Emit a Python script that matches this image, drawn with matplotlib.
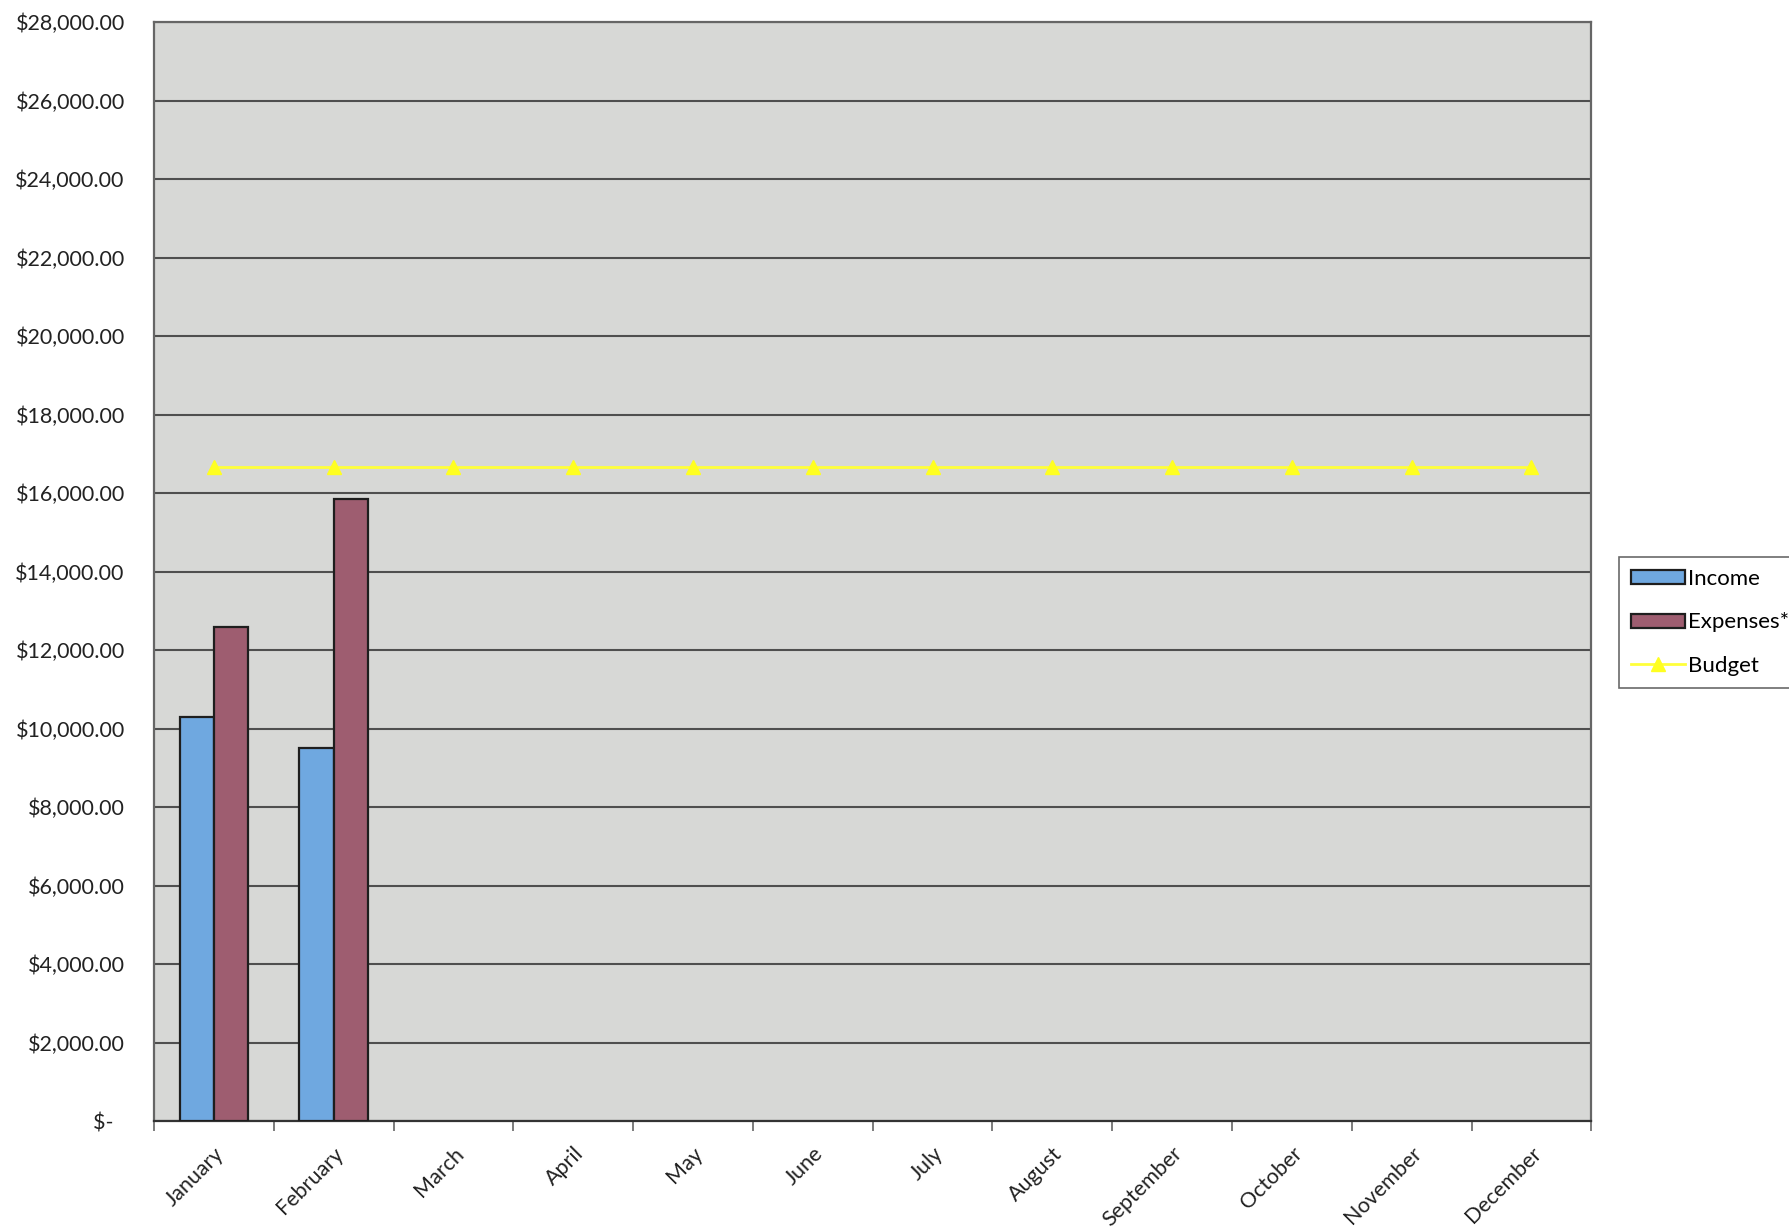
import matplotlib
matplotlib.use("Agg")
import matplotlib.pyplot as plt
from matplotlib.ticker import FuncFormatter
import numpy as np

plt.rcParams['font.family'] = ['Lato', 'DejaVu Sans']

# chart data
months = ["January", "February", "March", "April", "May", "June",
          "July", "August", "September", "October", "November", "December"]
income = [10300, 9500]
expenses = [12580, 15860]
budget = [16666.67] * 12

# colours
INCOME_C = "#6fa8e0"
EXPENSE_C = "#9e5d70"
BUDGET_C = "#ffff3a"
PLOT_BG = "#d7d8d6"
GRID_C = "#4f4f4f"


def money(v, pos):
    if v == 0:
        return "$-  "
    return "${:,.2f}".format(v)


fig = plt.figure(figsize=(17.9, 12.32), dpi=100)
ax = fig.add_axes([0.086, 0.090, 0.803, 0.892])
ax.set_facecolor(PLOT_BG)

x = np.arange(len(months))
w = 1 / 3.5
n = len(income)
b1 = ax.bar(x[:n] - w / 2, income, width=w, color=INCOME_C, edgecolor="#1e1e1e",
            linewidth=1.6, label="Income", zorder=3)
b2 = ax.bar(x[:n] + w / 2, expenses, width=w, color=EXPENSE_C, edgecolor="#1e1e1e",
            linewidth=1.6, label="Expenses*", zorder=3)
l1, = ax.plot(x, budget, color=BUDGET_C, linewidth=2.0, marker="^", markersize=10,
              markerfacecolor="#ffff20", markeredgecolor="#ffff20", label="Budget",
              zorder=4)

ax.set_xlim(-0.5, len(months) - 0.5)
ax.set_ylim(0, 28000)
ax.set_yticks(np.arange(0, 28001, 2000))
ax.yaxis.set_major_formatter(FuncFormatter(money))
ax.yaxis.grid(True, color=GRID_C, linewidth=1.5, zorder=1)
ax.set_axisbelow(True)
ax.tick_params(axis="y", length=0, pad=21, labelsize=15.5, labelcolor="#222222")

# labels at category centres, tick marks at category boundaries
ax.set_xticks(x)
ax.set_xticklabels(months, rotation=45, ha="right", va="top",
                   rotation_mode="anchor", fontsize=15.5, color="#222222")
ax.tick_params(axis="x", which="major", length=0, pad=16)
ax.set_xticks(np.arange(-0.5, len(months), 1), minor=True)
ax.tick_params(axis="x", which="minor", length=7, width=1.2, color="#666666",
               direction="out")

for side in ["left", "right", "top", "bottom"]:
    ax.spines[side].set_color("#666666")
    ax.spines[side].set_linewidth(1.6)
ax.spines["bottom"].set_color("#333333")

leg = fig.legend([b1, b2, l1], ["Income", "Expenses*", "Budget"],
                 loc="upper left", bbox_to_anchor=(0.9045, 0.548),
                 borderaxespad=0, fontsize=16, frameon=True, fancybox=False,
                 handlelength=2.4, handleheight=0.6, labelspacing=1.05,
                 handletextpad=0.15, borderpad=0.55)
leg.get_frame().set_edgecolor("#444444")
leg.get_frame().set_linewidth(1.2)

fig.savefig("out.png")
